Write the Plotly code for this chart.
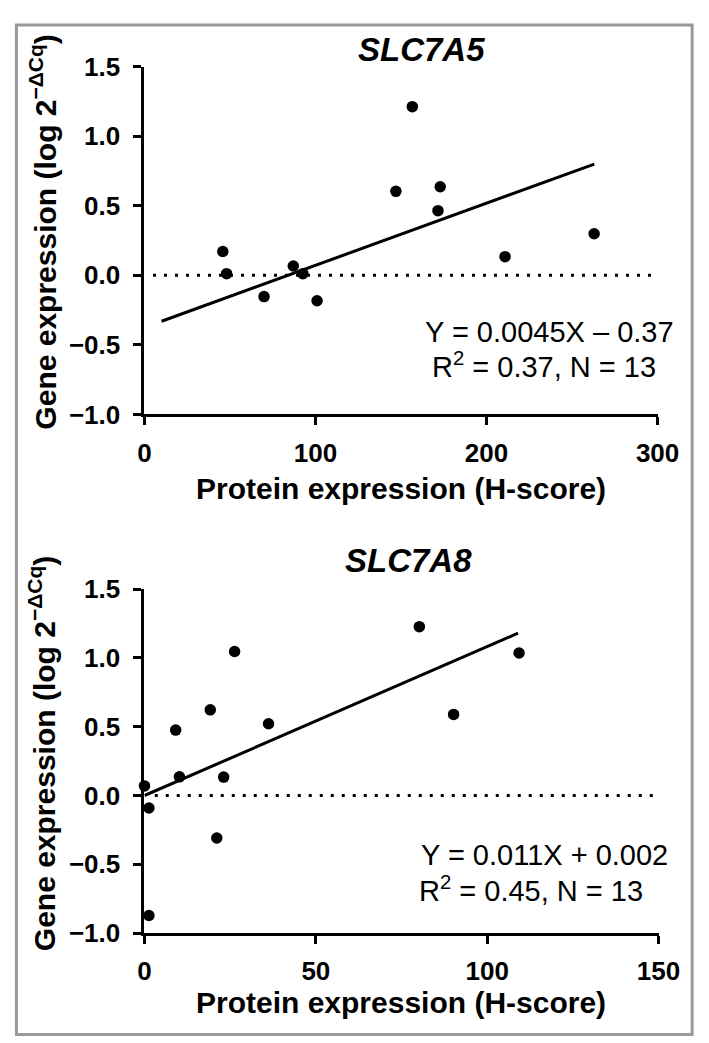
import plotly.graph_objects as go

W, H = 709, 1043
FONT = "Liberation Sans, Arial, sans-serif"

# ---- data: SLC7A5 ----
a5_x = [45.8, 48.0, 69.9, 87.0, 92.6, 100.9, 147.0, 156.6, 172.9, 171.6, 210.8, 262.9]
a5_y = [0.171, 0.012, -0.153, 0.067, 0.012, -0.183, 0.604, 1.213, 0.637, 0.465, 0.134, 0.299]
a5_fit_x = [10, 263]
a5_fit_y = [-0.33, 0.80]
a5_ref_x = [5, 300]
a5_ref_y = [0, 0]

# ---- data: SLC7A8 ----
a8_x = [0.0, 1.3, 1.3, 9.1, 10.2, 19.2, 21.1, 23.1, 26.3, 36.2, 80.2, 90.2, 109.3]
a8_y = [0.070, -0.091, -0.872, 0.476, 0.136, 0.623, -0.309, 0.134, 1.047, 0.522, 1.228, 0.590, 1.036]
a8_fit_x = [0, 109]
a8_fit_y = [0.0, 1.18]
a8_ref_x = [3, 150]
a8_ref_y = [0, 0]

y_ticks = [-1.0, -0.5, 0.0, 0.5, 1.0, 1.5]
a5_xticks = [0, 100, 200, 300]
a8_xticks = [0, 50, 100, 150]

def px(x):
    return x / W

def py(y):
    return 1 - y / H

fig = go.Figure()

def add_panel(xs, ys, fx, fy, rx, ry, xa, ya):
    fig.add_trace(go.Scatter(x=rx, y=ry, mode="lines", xaxis=xa, yaxis=ya,
                             line=dict(color="black", width=3, dash="3px,8px"),
                             showlegend=False, hoverinfo="skip"))
    fig.add_trace(go.Scatter(x=fx, y=fy, mode="lines", xaxis=xa, yaxis=ya,
                             line=dict(color="black", width=3),
                             showlegend=False, hoverinfo="skip"))
    fig.add_trace(go.Scatter(x=xs, y=ys, mode="markers", xaxis=xa, yaxis=ya,
                             marker=dict(color="black", size=11.5),
                             cliponaxis=False, showlegend=False))

add_panel(a5_x, a5_y, a5_fit_x, a5_fit_y, a5_ref_x, a5_ref_y, "x", "y")
add_panel(a8_x, a8_y, a8_fit_x, a8_fit_y, a8_ref_x, a8_ref_y, "x2", "y2")

tickfont = dict(family=FONT, size=26, color="black", weight="bold")
common_x = dict(showline=True, linewidth=3, linecolor="black", ticks="outside",
                ticklen=8, tickwidth=3, tickcolor="black", showgrid=False,
                zeroline=False, tickfont=tickfont, ticklabelstandoff=5)
common_y = dict(showline=True, linewidth=3, linecolor="black", ticks="outside",
                ticklen=8, tickwidth=3, tickcolor="black", showgrid=False,
                zeroline=False, tickfont=tickfont, tickvals=y_ticks,
                tickformat=".1f", range=[-1.0, 1.5], ticklabelstandoff=8)

fig.update_layout(
    width=W, height=H,
    margin=dict(l=0, r=0, t=0, b=0),
    paper_bgcolor="white", plot_bgcolor="white",
    xaxis=dict(domain=[px(135), px(670)], range=[0, 300], tickvals=a5_xticks,
               anchor="y", **common_x),
    yaxis=dict(domain=[py(403), py(45)], anchor="x", **common_y),
    xaxis2=dict(domain=[px(135), px(671)], range=[0, 150], tickvals=a8_xticks,
                anchor="y2", **common_x),
    yaxis2=dict(domain=[py(937), py(583)], anchor="x2", **common_y),
)

ann = []
def text(x, y, t, size, weight="normal", style="normal", xanchor="center", angle=0):
    ann.append(dict(x=px(x), y=py(y), xref="paper", yref="paper", text=t,
                    showarrow=False, xanchor=xanchor, yanchor="middle",
                    textangle=angle,
                    font=dict(family=FONT, size=size, color="black",
                              weight=weight, style=style)))

# titles
text(424, 27, "SLC7A5", 33, weight="bold", style="italic")
text(410, 553, "SLC7A8", 33, weight="bold", style="italic")
# x titles
text(402, 479, "Protein expression (H-score)", 30, weight="bold")
text(402, 1009, "Protein expression (H-score)", 30, weight="bold")
# y titles
ytitle = "Gene expression (log 2<sup>\u2212\u0394Cq</sup>)"
text(29, 215, ytitle, 30, weight="bold", angle=-90)
text(29, 752, ytitle, 30, weight="bold", angle=-90)
# equations
text(689, 318, "Y = 0.0045X \u2013 0.37", 29, xanchor="right")
text(433, 352, "R<sup>2</sup> = 0.37, N = 13", 29, xanchor="left")
text(421, 857, "Y = 0.011X + 0.002", 29, xanchor="left")
text(419, 892, "R<sup>2</sup> = 0.45, N = 13", 29, xanchor="left")

fig.update_layout(annotations=ann)

fig.add_shape(type="rect", xref="paper", yref="paper",
              x0=px(1.5), x1=px(706), y0=py(1041.5), y1=py(2),
              line=dict(color="#9a9a9a", width=3), fillcolor="rgba(0,0,0,0)")

fig.write_html("out.html")
